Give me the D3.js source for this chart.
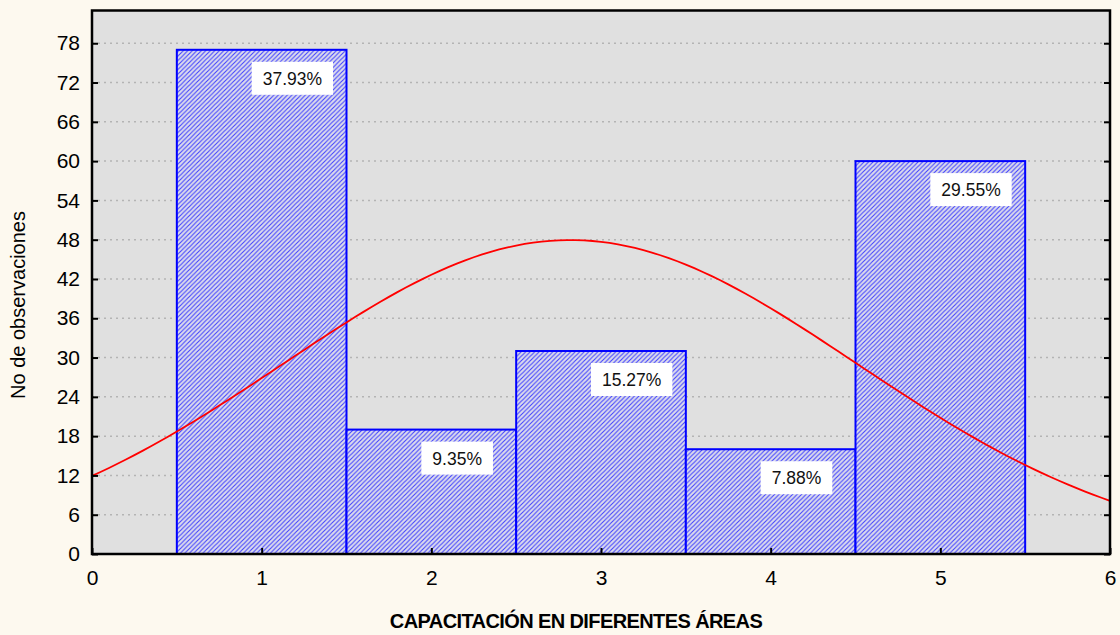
<!DOCTYPE html>
<html>
<head>
<meta charset="utf-8">
<script src="https://cdn.jsdelivr.net/npm/d3@7"></script>
<style>
  body { margin: 0; background: #fdf9ef; }
  svg { display: block; font-family: "Liberation Sans", Arial, sans-serif; }
</style>
</head>
<body>
<div id="chart"></div>
<script>
// data
var categories = [1, 2, 3, 4, 5];
var counts = [77, 19, 31, 16, 60];
var percentLabels = ["37.93%", "9.35%", "15.27%", "7.88%", "29.55%"];
var yTicks = [0, 6, 12, 18, 24, 30, 36, 42, 48, 54, 60, 66, 72, 78];
var xTicks = [0, 1, 2, 3, 4, 5, 6];

var width = 1120, height = 635;
var margin = {left: 92, right: 10, top: 10.5, bottom: 81};

var svg = d3.select("#chart").append("svg")
    .attr("width", width)
    .attr("height", height);

var x = d3.scaleLinear().domain([0, 6]).range([margin.left, width - margin.right]);
var y = d3.scaleLinear().domain([0, 83]).range([height - margin.bottom, margin.top]);

// hatch pattern
var defs = svg.append("defs");
var pat = defs.append("pattern")
    .attr("id", "hatch")
    .attr("patternUnits", "userSpaceOnUse")
    .attr("width", 4.5)
    .attr("height", 4.5);
pat.append("rect").attr("width", 4.5).attr("height", 4.5).attr("fill", "#dcdcec");
pat.append("path")
    .attr("d", "M-1,1 l2,-2 M0,4.5 l4.5,-4.5 M3.5,5.5 l2,-2")
    .attr("stroke", "#4040ff")
    .attr("stroke-width", 1.1);

// plot background
svg.append("rect")
    .attr("x", x(0)).attr("y", y(83))
    .attr("width", x(6) - x(0)).attr("height", y(0) - y(83))
    .attr("fill", "#e0e0e0");

// grid
svg.append("g").selectAll("line")
    .data(yTicks.filter(function(d) { return d > 0; }))
    .enter().append("line")
    .attr("x1", x(0)).attr("x2", x(6))
    .attr("y1", function(d) { return y(d); })
    .attr("y2", function(d) { return y(d); })
    .attr("stroke", "#b4b4b4")
    .attr("stroke-width", 1.5)
    .attr("stroke-dasharray", "2,4");

// bars
svg.append("g").selectAll("rect")
    .data(categories)
    .enter().append("rect")
    .attr("x", function(d) { return x(d - 0.5); })
    .attr("y", function(d, i) { return y(counts[i]); })
    .attr("width", x(1) - x(0))
    .attr("height", function(d, i) { return y(0) - y(counts[i]); })
    .attr("fill", "url(#hatch)")
    .attr("stroke", "#0000ff")
    .attr("stroke-width", 2);

// normal curve fitted to the data
var n = d3.sum(counts);
var mean = d3.sum(categories, function(d, i) { return d * counts[i]; }) / n;
var ss = d3.sum(categories, function(d, i) { return counts[i] * (d - mean) * (d - mean); });
var sd = Math.sqrt(ss / (n - 1));
var curveX = d3.range(0, 6.001, 0.05);
var line = d3.line()
    .x(function(d) { return x(d); })
    .y(function(d) { return y(n / (sd * Math.sqrt(2 * Math.PI)) * Math.exp(-0.5 * Math.pow((d - mean) / sd, 2))); });
svg.append("path")
    .datum(curveX)
    .attr("d", line)
    .attr("fill", "none")
    .attr("stroke", "#ff0000")
    .attr("stroke-width", 1.8);

// percent labels
var labels = svg.append("g").selectAll("g")
    .data(categories)
    .enter().append("g")
    .attr("transform", function(d, i) { return "translate(" + (x(d) - 10) + "," + (y(counts[i]) + 12) + ")"; });
labels.each(function(d, i) {
    var g = d3.select(this);
    var t = g.append("text")
        .attr("y", 23)
        .attr("font-size", 17.5)
        .attr("fill", "#111")
        .text(percentLabels[i]);
    var w = t.node().getComputedTextLength();
    t.attr("x", 11);
    g.insert("rect", "text")
        .attr("width", w + 22)
        .attr("height", 33)
        .attr("fill", "#ffffff");
});

// axes
var yAxisL = d3.axisLeft(y).tickValues(yTicks).tickSizeInner(-6).tickSizeOuter(0).tickPadding(12);
var yAxisR = d3.axisRight(y).tickValues(yTicks).tickSizeInner(-6).tickSizeOuter(0).tickFormat("");
var xAxisB = d3.axisBottom(x).tickValues(xTicks).tickFormat(d3.format("d"))
    .tickSizeInner(-6).tickSizeOuter(0).tickPadding(16);

svg.append("g")
    .attr("transform", "translate(" + x(0) + ",0)")
    .call(yAxisL)
    .call(function(g) {
        g.selectAll("text").attr("font-size", 21).attr("fill", "#000");
        g.select(".domain").remove();
    });
svg.append("g")
    .attr("transform", "translate(" + x(6) + ",0)")
    .call(yAxisR)
    .call(function(g) { g.select(".domain").remove(); });
svg.append("g")
    .attr("transform", "translate(0," + y(0) + ")")
    .call(xAxisB)
    .call(function(g) {
        g.selectAll("text").attr("font-size", 21).attr("fill", "#000");
        g.select(".domain").remove();
    });
svg.selectAll(".tick line").attr("stroke", "#000").attr("stroke-width", 2);

// frame
svg.append("rect")
    .attr("x", x(0)).attr("y", y(83))
    .attr("width", x(6) - x(0)).attr("height", y(0) - y(83))
    .attr("fill", "none")
    .attr("stroke", "#000")
    .attr("stroke-width", 2.5);

// titles
svg.append("text")
    .attr("x", 576)
    .attr("y", 628)
    .attr("text-anchor", "middle")
    .attr("font-size", 20)
    .attr("font-weight", "bold")
    .attr("letter-spacing", "-0.6px")
    .text("CAPACITACIÓN EN DIFERENTES ÁREAS");

svg.append("text")
    .attr("transform", "translate(25,305) rotate(-90)")
    .attr("text-anchor", "middle")
    .attr("font-size", 20)
    .text("No de observaciones");
</script>
</body>
</html>
